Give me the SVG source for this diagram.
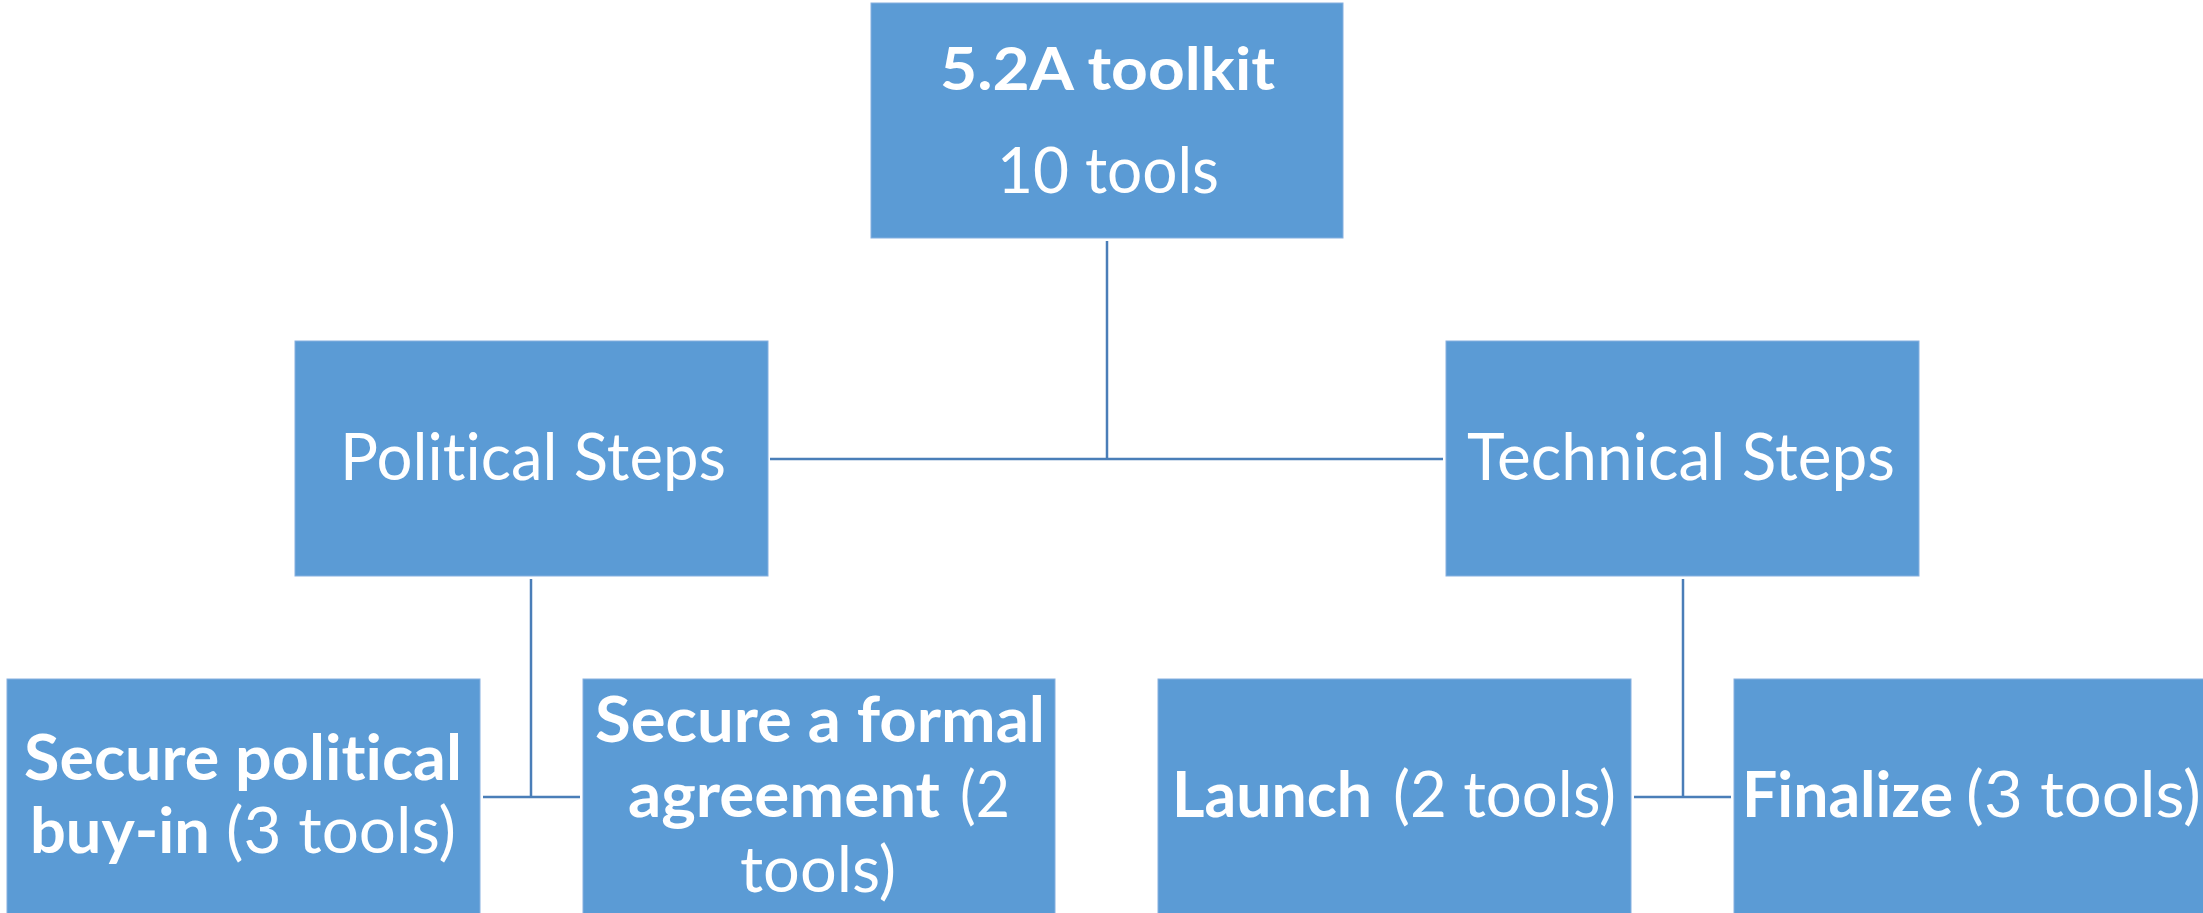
<svg xmlns="http://www.w3.org/2000/svg" width="2203" height="913" viewBox="0 0 2203 913">
<style>
.box{fill:#5b9bd5;stroke:#86b0e0;stroke-width:1}
.c{stroke:#4a7eb8;stroke-width:2.5;fill:none}
text{font-family:Lato,"Open Sans","Liberation Sans",sans-serif;fill:#ffffff;font-variant-ligatures:none;font-feature-settings:"liga" 0,"clig" 0}
.b{font-weight:bold}
</style>
<rect width="2203" height="913" fill="#ffffff"/>
<g id="connectors">
<line class="c" x1="1107" y1="241" x2="1107" y2="459"/>
<line class="c" x1="770" y1="459" x2="1443" y2="459"/>
<line class="c" x1="531" y1="579" x2="531" y2="797"/>
<line class="c" x1="483" y1="797" x2="580" y2="797"/>
<line class="c" x1="1683" y1="579" x2="1683" y2="797"/>
<line class="c" x1="1634" y1="797" x2="1731" y2="797"/>
</g>
<g id="toolkit">
<rect class="box" x="871" y="3" width="472" height="235"/>
<text class="b" x="940" y="90" font-size="60" textLength="335" lengthAdjust="spacingAndGlyphs">5.2A toolkit</text>
<text x="997" y="193" font-size="64" textLength="222" lengthAdjust="spacingAndGlyphs">10 tools</text>
</g>
<g id="political">
<rect class="box" x="295" y="341" width="473" height="235"/>
<text x="340" y="480" font-size="65" textLength="386" lengthAdjust="spacingAndGlyphs">Political Steps</text>
</g>
<g id="technical">
<rect class="box" x="1446" y="341" width="473" height="235"/>
<text x="1467" y="480" font-size="65" textLength="428" lengthAdjust="spacingAndGlyphs">Technical Steps</text>
</g>
<g id="buyin">
<rect class="box" x="7" y="679" width="473" height="240"/>
<text class="b" x="24" y="780" font-size="63" textLength="438" lengthAdjust="spacingAndGlyphs">Secure political</text>
<text class="b" x="30" y="853" font-size="63" textLength="180" lengthAdjust="spacingAndGlyphs">buy-in</text>
<text x="226" y="853" font-size="63" textLength="230" lengthAdjust="spacingAndGlyphs">(3 tools)</text>
</g>
<g id="agreement">
<rect class="box" x="583" y="679" width="472" height="240"/>
<text class="b" x="595" y="742" font-size="63" textLength="450" lengthAdjust="spacingAndGlyphs">Secure a formal</text>
<text class="b" x="628" y="817" font-size="63" textLength="312" lengthAdjust="spacingAndGlyphs">agreement</text>
<text x="960" y="817" font-size="63" textLength="50" lengthAdjust="spacingAndGlyphs">(2</text>
<text x="740" y="892" font-size="63" textLength="156" lengthAdjust="spacingAndGlyphs">tools)</text>
</g>
<g id="launch">
<rect class="box" x="1158" y="679" width="473" height="240"/>
<text class="b" x="1172" y="817" font-size="63" textLength="200" lengthAdjust="spacingAndGlyphs">Launch</text>
<text x="1393" y="817" font-size="63" textLength="223" lengthAdjust="spacingAndGlyphs">(2 tools)</text>
</g>
<g id="finalize">
<rect class="box" x="1734" y="679" width="473" height="240"/>
<text class="b" x="1742" y="817" font-size="63" textLength="211" lengthAdjust="spacingAndGlyphs">Finalize</text>
<text x="1966" y="817" font-size="63" textLength="235" lengthAdjust="spacingAndGlyphs">(3 tools)</text>
</g>
</svg>
